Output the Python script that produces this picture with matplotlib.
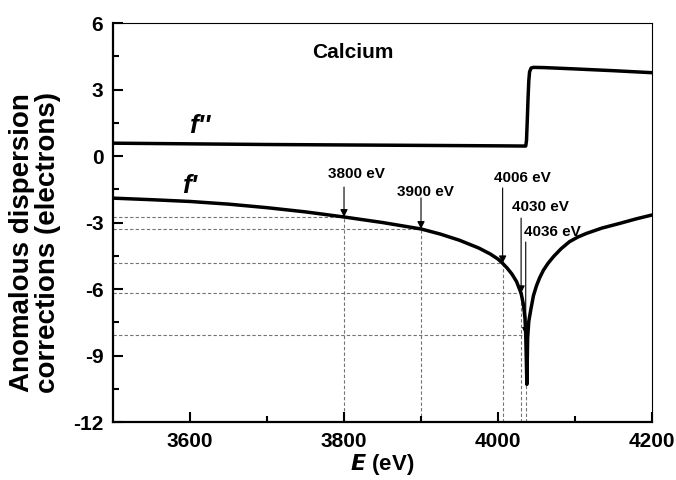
import matplotlib.pyplot as plt
import numpy as np

plt.rcParams['font.family'] = ['Liberation Sans', 'DejaVu Sans']
plt.rcParams['font.weight'] = 'bold'
plt.rcParams['axes.unicode_minus'] = False

# anomalous scattering factors of Ca near the K edge
E_fp = [3500, 3550, 3600, 3650, 3700, 3750, 3800, 3850, 3900, 3925, 3950,
        3975, 3990, 4000, 4006, 4012, 4018, 4024, 4030, 4033, 4035, 4036,
        4037.5, 4038.5, 4040, 4042.5, 4046, 4050, 4054, 4059, 4065, 4072,
        4082, 4093, 4104, 4115, 4135, 4158, 4180, 4200]
fp = [-1.90, -1.97, -2.05, -2.17, -2.33, -2.52, -2.75, -3.00, -3.29, -3.52,
      -3.80, -4.15, -4.42, -4.65, -4.84, -5.06, -5.32, -5.66, -6.19, -6.70,
      -7.30, -8.07, -10.30, -8.20, -7.45, -6.95, -6.30, -5.85, -5.50, -5.15,
      -4.84, -4.54, -4.18, -3.86, -3.65, -3.49, -3.25, -3.04, -2.83, -2.66]

E_fpp = [3500, 3600, 3700, 3800, 3900, 4000, 4036, 4037, 4038, 4039, 4040,
         4041, 4043, 4046, 4060, 4100, 4150, 4200]
fpp = [0.58, 0.55, 0.52, 0.50, 0.48, 0.46, 0.45, 0.70, 1.60, 2.60, 3.40,
       3.80, 3.97, 4.00, 3.99, 3.93, 3.85, 3.76]

# energies picked out on the f' curve
mark_E = [3800, 3900, 4006, 4030, 4036]
mark_fp = [-2.75, -3.29, -4.84, -6.19, -8.07]
# label anchor (x, y) and arrow start height for each marked energy
label_pos = [(3816, -0.81), (3906, -1.62), (4031, -0.99), (4055, -2.30), (4071, -3.43)]
arrow_top = [-1.40, -1.89, -1.44, -2.80, -3.88]

fig = plt.figure(figsize=(6.76, 4.8), dpi=100)
ax = fig.add_axes([0.1672, 0.1208, 0.7973, 0.8312])

for e, v in zip(mark_E, mark_fp):
    ax.plot([3500, e], [v, v], color='0.45', lw=0.8, ls=(0, (3, 2)), zorder=1)
    ax.plot([e, e], [-12, v], color='0.45', lw=0.8, ls=(0, (3, 2)), zorder=1)

ax.plot(E_fpp, fpp, color='k', lw=2.5, zorder=3, solid_joinstyle='round')
ax.plot(E_fp, fp, color='k', lw=2.5, zorder=3, solid_joinstyle='round')

for e, v, (lx, ly), top in zip(mark_E, mark_fp, label_pos, arrow_top):
    ax.text(lx, ly, f"{e} eV", fontsize=11, fontweight='bold',
            ha='center', va='center')
    ax.annotate('', xy=(e, v), xytext=(e, top),
                arrowprops=dict(arrowstyle='-|>', lw=0.8, color='k',
                                mutation_scale=11, shrinkA=0, shrinkB=0),
                zorder=2)

ax.text(3812, 4.65, "Calcium", fontsize=15, fontweight='bold', ha='center', va='center')
ax.text(3613, 1.35, "f''", fontsize=19, fontweight='bold', style='italic',
        ha='center', va='center')
ax.text(3600, -1.35, "f'", fontsize=19, fontweight='bold', style='italic',
        ha='center', va='center')

ax.set_xlim(3500, 4200)
ax.set_ylim(-12, 6)
ax.set_xticks([3600, 3800, 4000, 4200])
ax.set_xticks([3700, 3900, 4100], minor=True)
ax.set_yticks([-12, -9, -6, -3, 0, 3, 6])
ax.set_yticks(np.arange(-10.5, 6, 3), minor=True)
ax.tick_params(which='both', direction='in', top=False, right=False, width=1.5)
ax.tick_params(which='major', length=7, labelsize=15, pad=7)
ax.tick_params(which='minor', length=4)
for lab in ax.get_xticklabels() + ax.get_yticklabels():
    lab.set_fontweight('bold')

ax.spines['left'].set_linewidth(1.6)
ax.spines['bottom'].set_linewidth(1.6)
ax.spines['top'].set_linewidth(0.8)
ax.spines['right'].set_linewidth(0.8)

ax.set_ylabel("Anomalous dispersion\ncorrections (electrons)", fontsize=20,
              fontweight='bold', linespacing=1.0)
ax.yaxis.set_label_coords(-0.097, 0.451)
ax.set_xlabel(r"$\bf{\it{E}}$ (eV)", fontsize=16, fontweight='bold', labelpad=1)

fig.savefig('out.png', dpi=100)
